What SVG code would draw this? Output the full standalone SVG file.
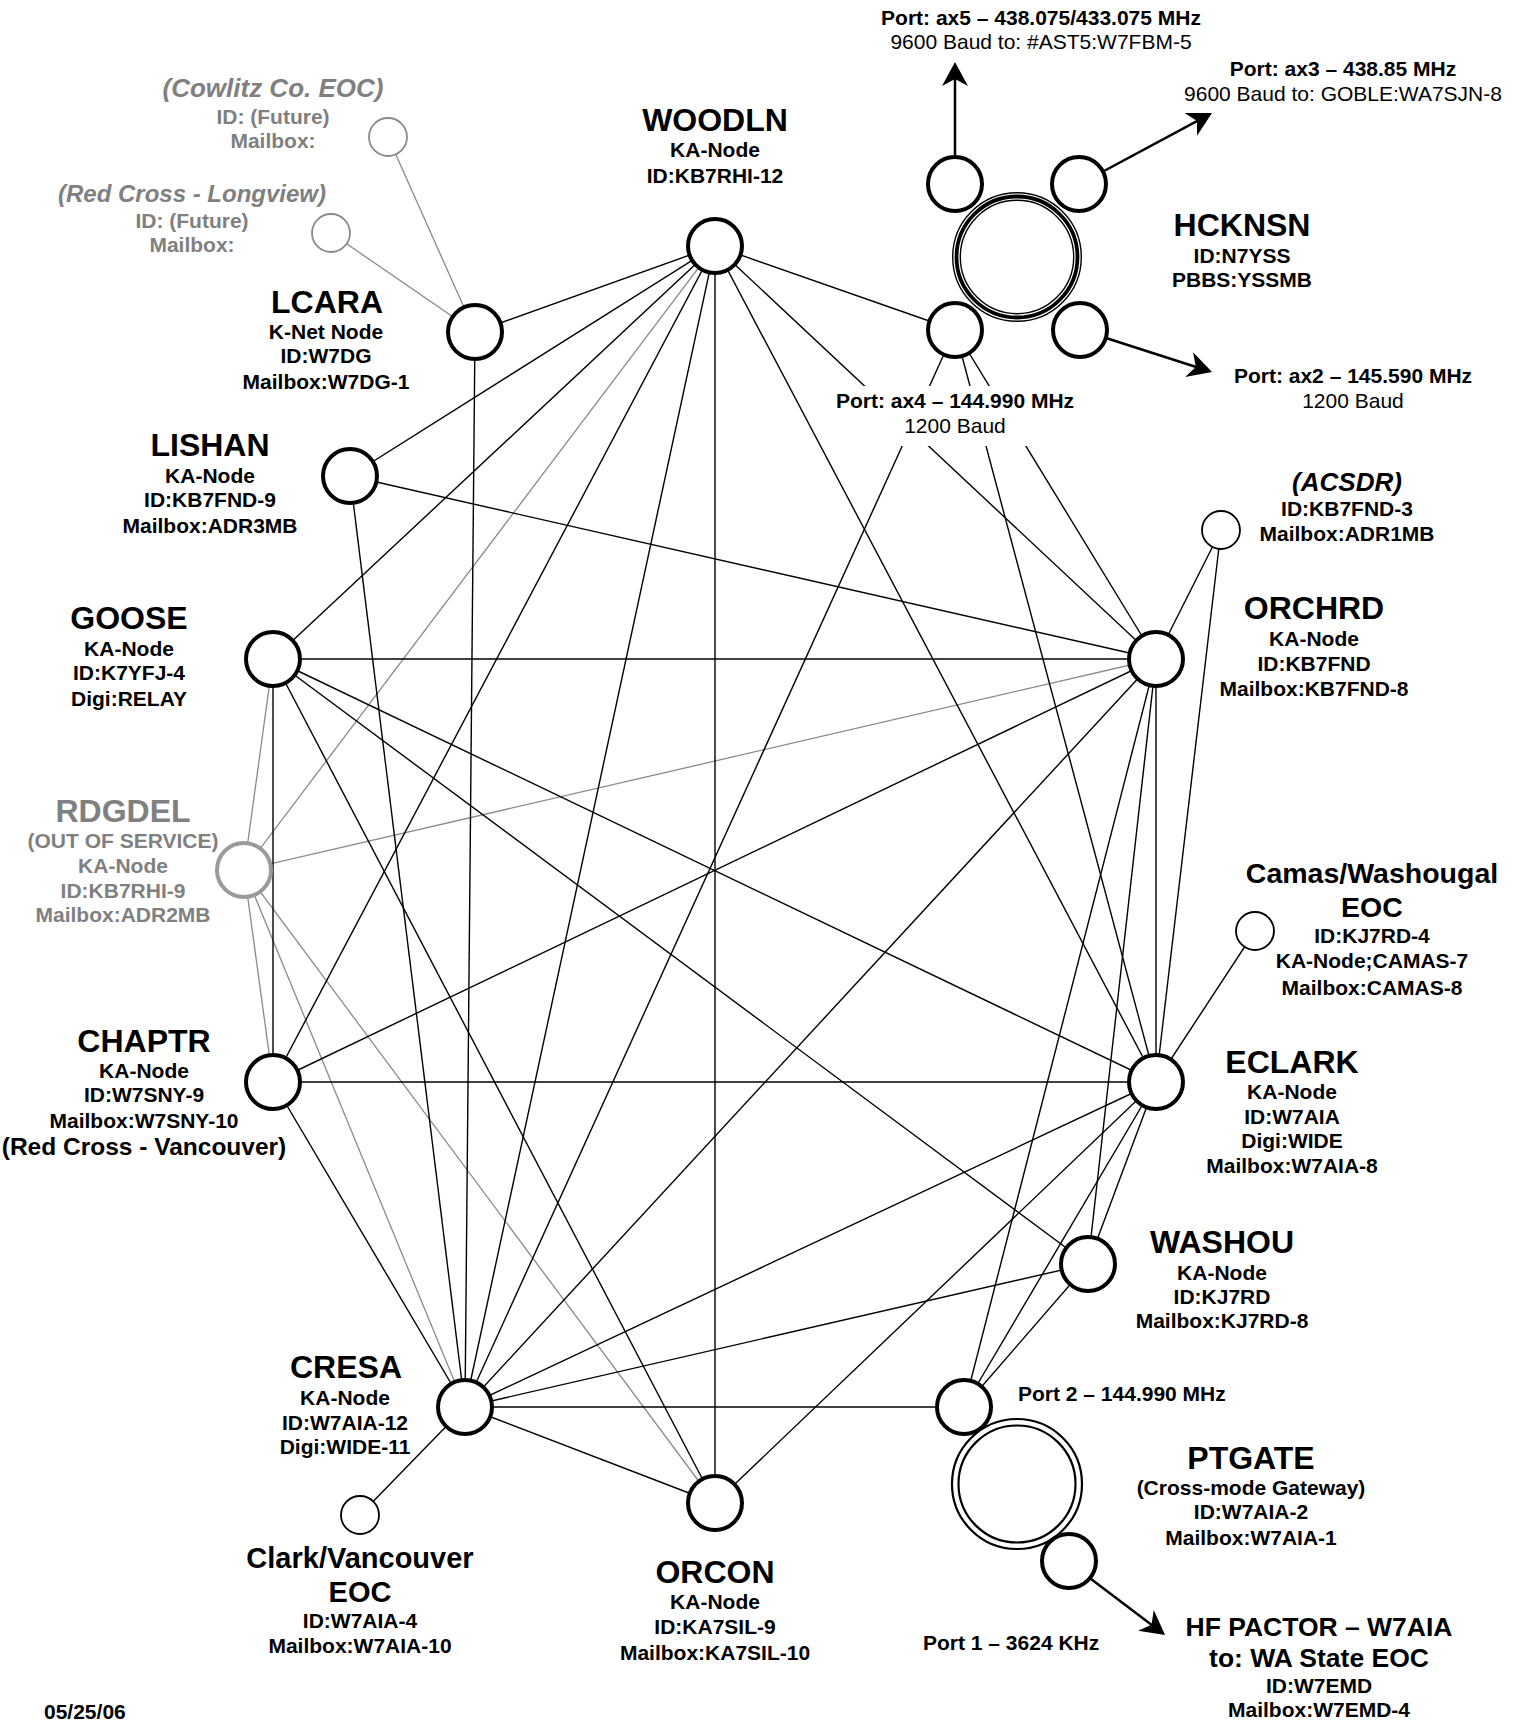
<svg xmlns="http://www.w3.org/2000/svg" width="1525" height="1723" viewBox="0 0 1525 1723">
<style>
text { font-family: "Liberation Sans", Arial, Helvetica, sans-serif; font-weight: bold; text-anchor: middle; fill: #000; }
.t { font-size: 32px; }
.l { font-size: 21px; }
.r { font-weight: normal; }
.gy { fill: #808080; }
.it { font-style: italic; }
.st { text-anchor: start; }
.e { stroke: #000; stroke-width: 1.4; fill: none; }
.g { stroke: #8a8a8a; stroke-width: 1.3; fill: none; }
.n { fill: #fff; stroke: #000; stroke-width: 4; }
.ng { fill: #fff; stroke: #9a9a9a; stroke-width: 4; }
.s { fill: #fff; stroke: #000; stroke-width: 1.8; }
.sg { fill: #fff; stroke: #8a8a8a; stroke-width: 1.8; }
.a { stroke: #000; stroke-width: 2.5; fill: none; marker-end: url(#arr); }
</style>
<defs>
<marker id="arr" markerUnits="userSpaceOnUse" viewBox="-10 -14 26 28" markerWidth="26" markerHeight="28" refX="0" refY="0" orient="auto">
<path d="M15,0 L-9,-13 L-2,0 L-9,13 Z" fill="#000"/>
</marker>
</defs>
<rect width="1525" height="1723" fill="#fff"/>

<g id="connectors">
<!-- gray connectors -->
<line class="g" x1="244" y1="870" x2="273" y2="659"/>
<line class="g" x1="244" y1="870" x2="715" y2="246"/>
<line class="g" x1="244" y1="870" x2="1156" y2="659"/>
<line class="g" x1="244" y1="870" x2="273" y2="1082"/>
<line class="g" x1="244" y1="870" x2="465" y2="1407"/>
<line class="g" x1="244" y1="870" x2="715" y2="1503"/>
<line class="g" x1="475" y1="332" x2="388" y2="137"/>
<line class="g" x1="475" y1="332" x2="331" y2="233"/>
<!-- black connectors -->
<line class="e" x1="715" y1="246" x2="475" y2="332"/>
<line class="e" x1="715" y1="246" x2="350" y2="476"/>
<line class="e" x1="715" y1="246" x2="273" y2="659"/>
<line class="e" x1="715" y1="246" x2="273" y2="1082"/>
<line class="e" x1="715" y1="246" x2="465" y2="1407"/>
<line class="e" x1="715" y1="246" x2="715" y2="1503"/>
<line class="e" x1="715" y1="246" x2="1156" y2="659"/>
<line class="e" x1="715" y1="246" x2="1156" y2="1082"/>
<line class="e" x1="715" y1="246" x2="955" y2="330"/>
<line class="e" x1="475" y1="332" x2="465" y2="1407"/>
<line class="e" x1="350" y1="476" x2="1156" y2="659"/>
<line class="e" x1="350" y1="476" x2="465" y2="1407"/>
<line class="e" x1="273" y1="659" x2="1156" y2="659"/>
<line class="e" x1="273" y1="659" x2="1156" y2="1082"/>
<line class="e" x1="273" y1="659" x2="1088" y2="1264"/>
<line class="e" x1="273" y1="659" x2="715" y2="1503"/>
<line class="e" x1="273" y1="659" x2="273" y2="1082"/>
<line class="e" x1="273" y1="1082" x2="1156" y2="659"/>
<line class="e" x1="273" y1="1082" x2="1156" y2="1082"/>
<line class="e" x1="273" y1="1082" x2="465" y2="1407"/>
<line class="e" x1="465" y1="1407" x2="955" y2="330"/>
<line class="e" x1="465" y1="1407" x2="1156" y2="659"/>
<line class="e" x1="465" y1="1407" x2="1156" y2="1082"/>
<line class="e" x1="465" y1="1407" x2="1088" y2="1264"/>
<line class="e" x1="465" y1="1407" x2="964" y2="1407"/>
<line class="e" x1="465" y1="1407" x2="715" y2="1503"/>
<line class="e" x1="465" y1="1407" x2="360" y2="1515"/>
<line class="e" x1="715" y1="1503" x2="1156" y2="1082"/>
<line class="e" x1="955" y1="330" x2="1156" y2="1082"/>
<line class="e" x1="955" y1="330" x2="1156" y2="659"/>
<line class="e" x1="1156" y1="659" x2="1156" y2="1082"/>
<line class="e" x1="1156" y1="659" x2="1088" y2="1264"/>
<line class="e" x1="1156" y1="659" x2="964" y2="1407"/>
<line class="e" x1="1156" y1="659" x2="1221" y2="530"/>
<line class="e" x1="1156" y1="1082" x2="1221" y2="530"/>
<line class="e" x1="1156" y1="1082" x2="1088" y2="1264"/>
<line class="e" x1="1156" y1="1082" x2="964" y2="1407"/>
<line class="e" x1="1156" y1="1082" x2="1255" y2="931"/>
<line class="e" x1="1088" y1="1264" x2="964" y2="1407"/>
<!-- arrows -->
<line class="a" x1="955" y1="156" x2="955" y2="77"/>
<line class="a" x1="1104" y1="171" x2="1198.8" y2="120.1"/>
<line class="a" x1="1106" y1="338" x2="1197.7" y2="367.5"/>
<line class="a" x1="1091" y1="1579" x2="1153.1" y2="1625.9"/>
</g>

<g id="node-cowlitz">
<circle class="sg" cx="388" cy="137" r="19"/>
<text class="it gy" x="273" y="97" style="font-size:26px">(Cowlitz Co. EOC)</text>
<text class="l gy" x="273" y="124">ID: (Future)</text>
<text class="l gy" x="273" y="148">Mailbox:</text>
</g>

<g id="node-longview">
<circle class="sg" cx="331" cy="233" r="19"/>
<text class="it gy" x="192" y="202" style="font-size:24px">(Red Cross - Longview)</text>
<text class="l gy" x="192" y="228">ID: (Future)</text>
<text class="l gy" x="192" y="252">Mailbox:</text>
</g>

<g id="node-woodln">
<circle class="n" cx="715" cy="246" r="27"/>
<text class="t" x="715" y="131">WOODLN</text>
<text class="l" x="715" y="157">KA-Node</text>
<text class="l" x="715" y="183">ID:KB7RHI-12</text>
</g>

<g id="node-hcknsn">
<circle cx="1017" cy="257" r="60.5" fill="#fff" stroke="#000" stroke-width="9"/>
<circle cx="1017" cy="257" r="58" fill="none" stroke="#fff" stroke-width="1.2"/>
<circle cx="1017" cy="257" r="63" fill="none" stroke="#fff" stroke-width="1.2"/>
<circle class="n" cx="955" cy="184" r="27"/>
<circle class="n" cx="1079" cy="184" r="27"/>
<circle class="n" cx="955" cy="330" r="27"/>
<circle class="n" cx="1080" cy="330" r="27"/>
<text class="t" x="1242" y="236">HCKNSN</text>
<text class="l" x="1242" y="263">ID:N7YSS</text>
<text class="l" x="1242" y="287">PBBS:YSSMB</text>
<text class="l" x="1041" y="25">Port: ax5 – 438.075/433.075 MHz</text>
<text class="l r" x="1041" y="49">9600 Baud to: #AST5:W7FBM-5</text>
<text class="l" x="1343" y="76">Port: ax3 – 438.85 MHz</text>
<text class="l r" x="1343" y="101">9600 Baud to: GOBLE:WA7SJN-8</text>
<rect x="833" y="386" width="245" height="60" fill="#fff"/>
<text class="l" x="955" y="408">Port: ax4 – 144.990 MHz</text>
<text class="l r" x="955" y="433">1200 Baud</text>
<text class="l" x="1353" y="383">Port: ax2 – 145.590 MHz</text>
<text class="l r" x="1353" y="408">1200 Baud</text>
</g>

<g id="node-lcara">
<circle class="n" cx="475" cy="332" r="27"/>
<text class="t" x="327" y="313">LCARA</text>
<text class="l" x="326" y="339">K-Net Node</text>
<text class="l" x="326" y="363">ID:W7DG</text>
<text class="l" x="326" y="389">Mailbox:W7DG-1</text>
</g>

<g id="node-lishan">
<circle class="n" cx="350" cy="476" r="27"/>
<text class="t" x="210" y="456">LISHAN</text>
<text class="l" x="210" y="483">KA-Node</text>
<text class="l" x="210" y="507">ID:KB7FND-9</text>
<text class="l" x="210" y="533">Mailbox:ADR3MB</text>
</g>

<g id="node-goose">
<circle class="n" cx="273" cy="659" r="27"/>
<text class="t" x="129" y="629">GOOSE</text>
<text class="l" x="129" y="656">KA-Node</text>
<text class="l" x="129" y="680">ID:K7YFJ-4</text>
<text class="l" x="129" y="706">Digi:RELAY</text>
</g>

<g id="node-rdgdel">
<circle class="ng" cx="244" cy="870" r="27"/>
<text class="t gy" x="123" y="822">RDGDEL</text>
<text class="l gy" x="123" y="848">(OUT OF SERVICE)</text>
<text class="l gy" x="123" y="873">KA-Node</text>
<text class="l gy" x="123" y="898">ID:KB7RHI-9</text>
<text class="l gy" x="123" y="922">Mailbox:ADR2MB</text>
</g>

<g id="node-chaptr">
<circle class="n" cx="273" cy="1082" r="27"/>
<text class="t" x="144" y="1052">CHAPTR</text>
<text class="l" x="144" y="1078">KA-Node</text>
<text class="l" x="144" y="1102">ID:W7SNY-9</text>
<text class="l" x="144" y="1128">Mailbox:W7SNY-10</text>
<text x="144" y="1155" style="font-size:24.5px">(Red Cross - Vancouver)</text>
</g>

<g id="node-cresa">
<circle class="n" cx="465" cy="1407" r="27"/>
<text class="t" x="346" y="1378">CRESA</text>
<text class="l" x="345" y="1405">KA-Node</text>
<text class="l" x="345" y="1430">ID:W7AIA-12</text>
<text class="l" x="345" y="1454">Digi:WIDE-11</text>
</g>

<g id="node-clarkeoc">
<circle class="s" cx="360" cy="1515" r="19"/>
<text x="360" y="1568" style="font-size:29px">Clark/Vancouver</text>
<text x="360" y="1602" style="font-size:29px">EOC</text>
<text class="l" x="360" y="1628">ID:W7AIA-4</text>
<text class="l" x="360" y="1653">Mailbox:W7AIA-10</text>
</g>

<g id="node-orcon">
<circle class="n" cx="715" cy="1503" r="27"/>
<text class="t" x="715" y="1583">ORCON</text>
<text class="l" x="715" y="1609">KA-Node</text>
<text class="l" x="715" y="1634">ID:KA7SIL-9</text>
<text class="l" x="715" y="1660">Mailbox:KA7SIL-10</text>
</g>

<g id="node-ptgate">
<circle cx="1017" cy="1484" r="65" fill="#fff" stroke="#000" stroke-width="2.2"/>
<circle cx="1017" cy="1484" r="58.5" fill="none" stroke="#000" stroke-width="2.2"/>
<circle class="n" cx="964" cy="1407" r="27"/>
<circle class="n" cx="1069" cy="1561" r="27"/>
<text class="l st" x="1018" y="1401">Port 2 – 144.990 MHz</text>
<text class="l st" x="923" y="1650">Port 1 – 3624 KHz</text>
<text class="t" x="1251" y="1469">PTGATE</text>
<text class="l" x="1251" y="1495">(Cross-mode Gateway)</text>
<text class="l" x="1251" y="1519">ID:W7AIA-2</text>
<text class="l" x="1251" y="1545">Mailbox:W7AIA-1</text>
</g>

<g id="node-hfpactor">
<text x="1319" y="1636" style="font-size:26.5px">HF PACTOR – W7AIA</text>
<text x="1319" y="1667" style="font-size:26.5px">to: WA State EOC</text>
<text class="l" x="1319" y="1693">ID:W7EMD</text>
<text class="l" x="1319" y="1717">Mailbox:W7EMD-4</text>
</g>

<g id="node-washou">
<circle class="n" cx="1088" cy="1264" r="27"/>
<text class="t" x="1222" y="1253">WASHOU</text>
<text class="l" x="1222" y="1280">KA-Node</text>
<text class="l" x="1222" y="1304">ID:KJ7RD</text>
<text class="l" x="1222" y="1328">Mailbox:KJ7RD-8</text>
</g>

<g id="node-eclark">
<circle class="n" cx="1156" cy="1082" r="27"/>
<text class="t" x="1292" y="1073">ECLARK</text>
<text class="l" x="1292" y="1099">KA-Node</text>
<text class="l" x="1292" y="1124">ID:W7AIA</text>
<text class="l" x="1292" y="1148">Digi:WIDE</text>
<text class="l" x="1292" y="1173">Mailbox:W7AIA-8</text>
</g>

<g id="node-camas">
<circle class="s" cx="1255" cy="931" r="19"/>
<text x="1372" y="883" style="font-size:28.5px">Camas/Washougal</text>
<text x="1372" y="917" style="font-size:28.5px">EOC</text>
<text class="l" x="1372" y="943">ID:KJ7RD-4</text>
<text class="l" x="1372" y="968">KA-Node;CAMAS-7</text>
<text class="l" x="1372" y="995">Mailbox:CAMAS-8</text>
</g>

<g id="node-orchrd">
<circle class="n" cx="1156" cy="659" r="27"/>
<text class="t" x="1314" y="619">ORCHRD</text>
<text class="l" x="1314" y="646">KA-Node</text>
<text class="l" x="1314" y="671">ID:KB7FND</text>
<text class="l" x="1314" y="696">Mailbox:KB7FND-8</text>
</g>

<g id="node-acsdr">
<circle class="s" cx="1221" cy="530" r="19"/>
<text class="it" x="1347" y="491" style="font-size:26px">(ACSDR)</text>
<text class="l" x="1347" y="516">ID:KB7FND-3</text>
<text class="l" x="1347" y="541">Mailbox:ADR1MB</text>
</g>

<g id="date">
<text class="l st" x="44" y="1719">05/25/06</text>
</g>
</svg>
